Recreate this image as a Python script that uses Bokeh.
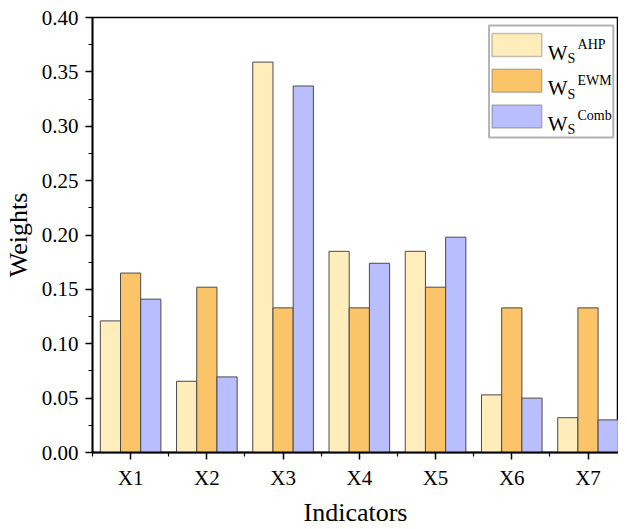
from bokeh.plotting import figure
from bokeh.models import (ColumnDataSource, Range1d, FixedTicker, SingleIntervalTicker,
                          NumeralTickFormatter, BoxAnnotation, Label)
from bokeh.transform import dodge
from bokeh.embed import file_html
from bokeh.resources import INLINE

# ---- data ----
categories = ["X1", "X2", "X3", "X4", "X5", "X6", "X7"]
w_ahp = [0.121, 0.0655, 0.359, 0.185, 0.185, 0.053, 0.032]
w_ewm = [0.165, 0.152, 0.133, 0.133, 0.152, 0.133, 0.133]
w_comb = [0.141, 0.0695, 0.337, 0.174, 0.198, 0.050, 0.030]
series_names = ["AHP", "EWM", "Comb"]
colors = ["#FFEDBB", "#FCC468", "#B9BFFE"]
y_ticks_step = 0.05

FONT = "Liberation Serif"
positions = list(range(1, len(categories) + 1))
src = ColumnDataSource(dict(x=positions, ahp=w_ahp, ewm=w_ewm, comb=w_comb))

X0, X1 = 0.5, 7.40
Y0, Y1 = 0.0, 0.40
p = figure(width=618, height=529, output_backend="svg", toolbar_location=None,
           x_range=Range1d(X0, X1), y_range=Range1d(Y0, Y1),
           min_border_left=85, min_border_right=0, min_border_top=17, min_border_bottom=0)
p.background_fill_color = "white"
p.border_fill_color = "white"
p.outline_line_color = "black"
p.outline_line_width = 1.5
p.grid.visible = False

bw = 0.265
edge = "#4a4a4a"
for off, col, c in zip([-bw, 0.0, bw], ["ahp", "ewm", "comb"], colors):
    p.vbar(x=dodge("x", off, range=p.x_range), top=col, width=bw, bottom=0, source=src,
           fill_color=c, line_color=edge, line_width=1)

# axes
xa = p.xaxis[0]
xa.ticker = FixedTicker(ticks=positions, minor_ticks=[v - 0.5 for v in positions] + [positions[-1] + 0.5])
xa.major_label_overrides = {pos: cat for pos, cat in zip(positions, categories)}
ya = p.yaxis[0]
ya.ticker = SingleIntervalTicker(interval=y_ticks_step, num_minor_ticks=2)
ya.formatter = NumeralTickFormatter(format="0.00")

for ax in (xa, ya):
    ax.axis_line_color = "black"
    ax.axis_line_width = 1.8
    ax.major_tick_line_color = "black"
    ax.major_tick_line_width = 1.5
    ax.major_tick_in = 0
    ax.major_tick_out = 7
    ax.minor_tick_line_color = "black"
    ax.minor_tick_line_width = 1.2
    ax.minor_tick_in = 0
    ax.minor_tick_out = 4
    ax.major_label_text_font = FONT
    ax.major_label_text_font_size = "21px"
    ax.major_label_text_color = "black"
    ax.axis_label_text_font = FONT
    ax.axis_label_text_font_size = "26px"
    ax.axis_label_text_font_style = "normal"
    ax.axis_label_text_color = "black"

xa.axis_label = "Indicators"
ya.axis_label = "Weights"
xa.major_label_standoff = 6
xa.axis_label_standoff = 5
ya.major_label_standoff = 7
ya.axis_label_standoff = 6

# ---- legend: placed relative to the plot frame (reference frame: x 93..626 px, y 17..452 px)
def lx(px):
    return X0 + (px - 93) / 76.7
def ly(py):
    return Y1 - (py - 17) * (Y1 - Y0) / 435.0

p.add_layout(BoxAnnotation(left=lx(492), right=lx(617), top=ly(25), bottom=ly(137),
                           fill_color="white", fill_alpha=1.0,
                           line_color="black", line_width=2, level="annotation"))
for i, (name, c) in enumerate(zip(series_names, colors)):
    top = 33 + i * 35.7
    p.add_layout(BoxAnnotation(left=lx(495), right=lx(545), top=ly(top), bottom=ly(top + 23),
                               fill_color=c, fill_alpha=1.0,
                               line_color="#3a3a3a", line_width=1.5, level="annotation"))
    base = top + 19
    p.add_layout(Label(x=lx(551), y=ly(base), text="W",
                       text_font=FONT, text_font_size="21px", text_color="black",
                       text_baseline="alphabetic", text_align="left"))
    p.add_layout(Label(x=lx(571), y=ly(base + 6), text="S",
                       text_font=FONT, text_font_size="14px", text_color="black",
                       text_baseline="alphabetic", text_align="left"))
    p.add_layout(Label(x=lx(581), y=ly(base - 8), text=name,
                       text_font=FONT, text_font_size="14px", text_color="black",
                       text_baseline="alphabetic", text_align="left"))

open("out.html", "w").write(file_html(p, INLINE))
